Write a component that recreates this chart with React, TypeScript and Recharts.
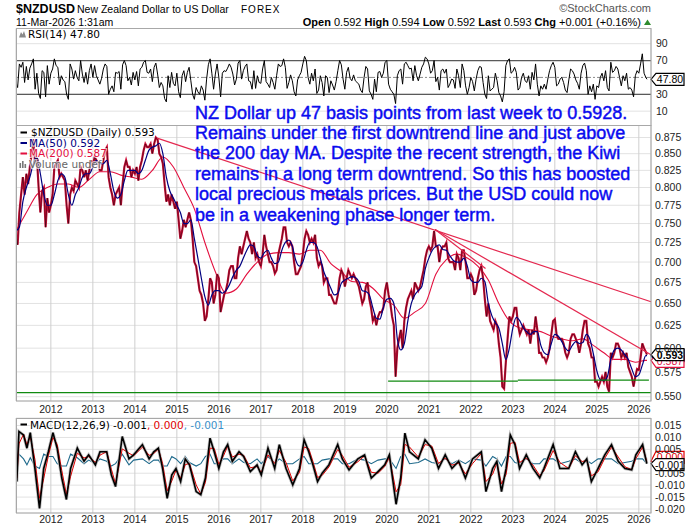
import React from "react";
import {
  ComposedChart,
  Line,
  XAxis,
  YAxis,
  CartesianGrid,
  ReferenceLine,
  ReferenceDot,
} from "recharts";

// ---------- layout / style constants ----------
const W = 700;
const H = 530;
const SANS = "'Liberation Sans', Arial, Helvetica, sans-serif";
const LEG = "'DejaVu Sans', Verdana, sans-serif";
const BLUE_TEXT = "#0a0aef";
const PRICE_RED = "#d0103a";
const MA50_COLOR = "#000080";
const MA200_COLOR = "#e3103f";
const TREND_COLOR = "#e4284f";
const GREEN = "#108a10";

// ---------- axes ----------
const X_DOMAIN: [number, number] = [2011.17, 2026.29];
const yearTicks = [2012, 2013, 2014, 2015, 2016, 2017, 2018, 2019, 2020, 2021, 2022, 2023, 2024, 2025, 2026];
const priceTicks = [0.55, 0.575, 0.6, 0.625, 0.65, 0.675, 0.7, 0.725, 0.75, 0.775, 0.8, 0.825, 0.85, 0.875];
const PRICE_DOMAIN: [number, number] = [0.5458, 0.894];
const rsiTicks = [10, 30, 70, 90];
const RSI_DOMAIN: [number, number] = [-7, 108];
const macdTicks = [-0.02, -0.015, -0.01, -0.005, 0.005, 0.01, 0.015];
const MACD_DOMAIN: [number, number] = [-0.02167, 0.01815];

// ---------- time grid (series start 1-Mar-2011) ----------
const SERIES_START = 2011 + 2 / 12;
const LAST_T = 2026 + 2 / 12 + 10 / 365; // 11-Mar-2026

// ---------- price close, semi-monthly (1st & 15th), Mar 2011 .. Mar 2026 ----------
const priceClose = [
  0.735, 0.722, 0.765, 0.79, 0.815, 0.79, 0.82, 0.805, 0.83, 0.85, 0.872, 0.835, 0.845, 0.8, 0.765, 0.795, 0.8, 0.745, 0.785, 0.765,
  0.775, 0.79, 0.83, 0.835, 0.84, 0.815, 0.82, 0.815, 0.81, 0.775, 0.75, 0.79, 0.8, 0.795, 0.81, 0.805, 0.8, 0.83, 0.825, 0.815, 0.825, 0.81, 0.825, 0.84,
  0.83, 0.845, 0.84, 0.835, 0.825, 0.825, 0.84, 0.855, 0.86, 0.815, 0.8, 0.79, 0.775, 0.79, 0.795, 0.8, 0.775, 0.805, 0.83, 0.84, 0.83, 0.83, 0.815, 0.825,
  0.82, 0.83, 0.81, 0.83, 0.84, 0.855, 0.865, 0.86, 0.86, 0.865, 0.85, 0.865, 0.875, 0.872, 0.85, 0.845, 0.835, 0.805, 0.78, 0.79, 0.775, 0.79, 0.78, 0.77,
  0.78, 0.755, 0.73, 0.74, 0.755, 0.745, 0.755, 0.765, 0.755, 0.73, 0.7, 0.695, 0.68, 0.665, 0.66, 0.65, 0.63, 0.635, 0.655, 0.68, 0.675, 0.65, 0.66, 0.685,
  0.68, 0.64, 0.65, 0.66, 0.665, 0.675, 0.69, 0.695, 0.695, 0.68, 0.68, 0.705, 0.72, 0.71, 0.72, 0.73, 0.74, 0.73, 0.725, 0.71, 0.725, 0.705, 0.71, 0.7,
  0.695, 0.71, 0.735, 0.72, 0.71, 0.7, 0.7, 0.695, 0.686, 0.69, 0.71, 0.72, 0.73, 0.745, 0.745, 0.725, 0.72, 0.725, 0.72, 0.7, 0.685, 0.685, 0.69, 0.695,
  0.71, 0.73, 0.74, 0.735, 0.725, 0.73, 0.725, 0.735, 0.705, 0.695, 0.7, 0.695, 0.675, 0.68, 0.68, 0.66, 0.66, 0.655, 0.65, 0.65, 0.66, 0.68, 0.69, 0.685,
  0.67, 0.68, 0.69, 0.685, 0.68, 0.685, 0.68, 0.675, 0.67, 0.66, 0.65, 0.655, 0.67, 0.675, 0.655, 0.645, 0.63, 0.635, 0.625, 0.635, 0.64, 0.64, 0.645, 0.665,
  0.675, 0.66, 0.65, 0.635, 0.625, 0.57, 0.6, 0.61, 0.62, 0.6, 0.63, 0.645, 0.655, 0.66, 0.665, 0.655, 0.675, 0.67, 0.665, 0.67, 0.68, 0.69, 0.705, 0.715,
  0.72, 0.715, 0.72, 0.74, 0.72, 0.72, 0.7, 0.715, 0.72, 0.72, 0.725, 0.705, 0.7, 0.7, 0.7, 0.69, 0.71, 0.705, 0.69, 0.715, 0.715, 0.7, 0.68, 0.68,
  0.685, 0.68, 0.66, 0.665, 0.68, 0.69, 0.695, 0.68, 0.655, 0.635, 0.65, 0.63, 0.625, 0.62, 0.63, 0.625, 0.605, 0.59, 0.56, 0.558, 0.585, 0.61, 0.635, 0.63,
  0.635, 0.645, 0.645, 0.625, 0.615, 0.62, 0.625, 0.62, 0.615, 0.62, 0.605, 0.62, 0.615, 0.635, 0.62, 0.595, 0.595, 0.59, 0.59, 0.585, 0.59, 0.6, 0.615, 0.63,
  0.632, 0.615, 0.61, 0.61, 0.61, 0.605, 0.595, 0.59, 0.595, 0.61, 0.615, 0.615, 0.61, 0.605, 0.595, 0.605, 0.62, 0.63, 0.63, 0.605, 0.6, 0.59, 0.59, 0.565,
  0.565, 0.56, 0.565, 0.57, 0.565, 0.575, 0.56, 0.555, 0.595, 0.59, 0.595, 0.605, 0.605, 0.6, 0.59, 0.595, 0.59, 0.595, 0.58, 0.575, 0.57, 0.56, 0.57, 0.578,
  0.577, 0.59, 0.605, 0.6, 0.596,
];
const lastClose = 0.593;

// ---------- MA(50), monthly (1st of month), Mar 2011 .. Mar 2026 ----------
const ma50Values = [
  0.74, 0.745, 0.78, 0.8, 0.815, 0.835, 0.845, 0.82, 0.79, 0.775,
  0.775, 0.79, 0.81, 0.82, 0.815, 0.79, 0.775, 0.79, 0.8, 0.815, 0.82, 0.82,
  0.83, 0.84, 0.835, 0.835, 0.84, 0.82, 0.795, 0.785, 0.79, 0.81, 0.825, 0.825,
  0.825, 0.82, 0.825, 0.84, 0.855, 0.86, 0.862, 0.866, 0.85, 0.815, 0.795, 0.785,
  0.775, 0.765, 0.75, 0.75, 0.755, 0.73, 0.705, 0.68, 0.658, 0.648, 0.66, 0.665,
  0.665, 0.662, 0.665, 0.672, 0.682, 0.69, 0.695, 0.705, 0.715, 0.722, 0.72, 0.708,
  0.705, 0.712, 0.715, 0.705, 0.698, 0.7, 0.715, 0.725, 0.728, 0.72, 0.702, 0.695,
  0.7, 0.715, 0.725, 0.725, 0.72, 0.705, 0.688, 0.678, 0.668, 0.66, 0.662, 0.674,
  0.678, 0.68, 0.682, 0.681, 0.676, 0.665, 0.664, 0.66, 0.645, 0.633, 0.632, 0.645,
  0.655, 0.656, 0.65, 0.61, 0.598, 0.605, 0.63, 0.65, 0.66, 0.665, 0.67, 0.692,
  0.705, 0.715, 0.72, 0.722, 0.716, 0.715, 0.708, 0.702, 0.7, 0.7, 0.705, 0.695,
  0.678, 0.675, 0.675, 0.68, 0.676, 0.65, 0.636, 0.628, 0.622, 0.605, 0.588, 0.6,
  0.622, 0.634, 0.63, 0.622, 0.618, 0.615, 0.618, 0.618, 0.603, 0.595, 0.593, 0.605,
  0.615, 0.613, 0.607, 0.6, 0.597, 0.603, 0.607, 0.605, 0.606, 0.615, 0.61, 0.594,
  0.576, 0.567, 0.566, 0.57, 0.588, 0.598, 0.6, 0.598, 0.593, 0.588, 0.578, 0.57,
  0.572, 0.582, 0.592,
];
const lastMa50 = 0.592;

// ---------- MA(200), quarterly, Mar 2011 .. Mar 2026 ----------
const ma200Values = [
  0.74, 0.765, 0.79, 0.8,
  0.805, 0.805, 0.8, 0.812,
  0.823, 0.823, 0.818, 0.815,
  0.812, 0.825, 0.845, 0.83,
  0.8, 0.77, 0.725, 0.688,
  0.662, 0.667, 0.685, 0.7,
  0.71, 0.712, 0.712, 0.71,
  0.715, 0.715, 0.698, 0.688,
  0.676, 0.675, 0.668, 0.655,
  0.648, 0.633, 0.64, 0.65,
  0.685, 0.703, 0.71, 0.705,
  0.695, 0.678, 0.65, 0.63,
  0.622, 0.62, 0.618, 0.613,
  0.61, 0.608, 0.61, 0.603,
  0.595, 0.588, 0.588, 0.585,
  0.587,
];
const lastMa200 = 0.587;

// ---------- RSI(14), semi-monthly, Mar 2011 .. Mar 2026 ----------
const rsiValues = [
  45, 38, 66, 62, 68, 44, 63, 47, 61, 66, 72, 36, 55, 31, 25, 58, 56, 27, 64, 42,
  55, 60, 72, 64, 62, 41, 52, 47, 45, 30, 24, 66, 60, 48, 58, 50, 46, 70, 54, 44, 56, 42, 58, 66,
  50, 64, 52, 47, 42, 49, 60, 66, 63, 30, 36, 40, 33, 56, 55, 57, 36, 65, 70, 64, 46, 50, 41, 56,
  47, 57, 40, 60, 62, 68, 70, 56, 55, 60, 45, 62, 67, 54, 38, 44, 40, 25, 21, 52, 38, 56, 43, 40,
  55, 33, 26, 52, 58, 45, 56, 62, 46, 30, 24, 38, 33, 30, 40, 35, 23, 48, 65, 72, 55, 36, 54, 66,
  50, 27, 55, 58, 57, 61, 66, 62, 54, 41, 48, 67, 70, 48, 58, 63, 66, 46, 45, 36, 58, 37, 52, 44,
  43, 60, 70, 45, 42, 38, 50, 44, 36, 52, 66, 63, 64, 72, 62, 37, 44, 53, 46, 33, 28, 47, 52, 56,
  66, 75, 70, 50, 42, 55, 46, 60, 31, 35, 52, 44, 28, 52, 50, 32, 46, 41, 35, 45, 58, 70, 65, 48,
  36, 56, 62, 49, 46, 53, 46, 44, 42, 35, 32, 50, 63, 60, 34, 30, 24, 48, 33, 56, 57, 50, 55, 68,
  70, 42, 36, 33, 30, 19, 52, 58, 60, 42, 66, 68, 64, 60, 61, 46, 64, 52, 46, 54, 62, 66, 74, 72,
  66, 55, 58, 70, 45, 50, 35, 58, 60, 55, 60, 38, 42, 48, 47, 37, 60, 52, 38, 66, 58, 40, 30, 38,
  50, 45, 34, 48, 58, 63, 62, 44, 30, 25, 52, 34, 36, 38, 55, 46, 32, 28, 21, 33, 64, 70, 72, 55,
  57, 62, 56, 35, 38, 50, 55, 46, 44, 52, 36, 56, 47, 66, 42, 28, 40, 36, 42, 36, 48, 58, 64, 68,
  62, 40, 42, 48, 50, 44, 35, 32, 47, 60, 58, 54, 47, 43, 36, 55, 64, 67, 58, 30, 40, 33, 42, 24,
  40, 38, 50, 55, 46, 58, 38, 34, 68, 56, 58, 63, 60, 50, 40, 52, 46, 55, 36, 38, 35, 27, 52, 58,
  55, 66, 78, 55, 50,
];
const lastRsi = 47.8;

// ---------- MACD(12,26,9), points ----------
const macdDates = [
  2011.19, 2011.24, 2011.35, 2011.43, 2011.51, 2011.62, 2011.73, 2011.83, 2011.94, 2012.05,
  2012.15, 2012.26, 2012.37, 2012.47, 2012.63, 2012.79, 2012.9, 2013.06, 2013.17, 2013.33,
  2013.44, 2013.54, 2013.7, 2013.86, 2013.97, 2014.18, 2014.34, 2014.45, 2014.56, 2014.66,
  2014.77, 2014.88, 2014.98, 2015.09, 2015.2, 2015.3, 2015.46, 2015.57, 2015.68, 2015.79,
  2015.89, 2016.0, 2016.11, 2016.21, 2016.32, 2016.48, 2016.59, 2016.75, 2016.91, 2017.01,
  2017.17, 2017.33, 2017.44, 2017.6, 2017.76, 2017.92, 2018.03, 2018.14, 2018.24, 2018.35,
  2018.46, 2018.62, 2018.83, 2018.94, 2019.1, 2019.31, 2019.47, 2019.63, 2019.79, 2019.95,
  2020.06, 2020.22, 2020.33, 2020.43, 2020.54, 2020.75, 2020.91, 2021.07, 2021.23, 2021.39,
  2021.55, 2021.71, 2021.87, 2022.04, 2022.25, 2022.36, 2022.52, 2022.62, 2022.73, 2022.84,
  2022.94, 2023.05, 2023.16, 2023.32, 2023.48, 2023.64, 2023.74, 2023.96, 2024.12, 2024.33,
  2024.49, 2024.65, 2024.76, 2024.87, 2025.03, 2025.19, 2025.35, 2025.51, 2025.67, 2025.83,
  2025.93, 2026.09, 2026.19,
];
const macdValues = [
  -0.0085, 0.0125, 0.011, 0.0055, 0.012, -0.003, -0.0197, -0.003, 0.004, 0.012,
  0.0055, -0.007, -0.016, -0.003, 0.0055, 0.0, 0.0027, -0.0015, 0.004, 0.004,
  -0.0057, -0.0106, 0.0104, 0.001, 0.0027, 0.007, 0.001, 0.004, 0.0055, -0.003,
  -0.0155, -0.0057, -0.003, -0.0085, 0.001, -0.0015, -0.0127, -0.014, -0.007, 0.0097,
  0.004, -0.003, 0.004, 0.007, 0.0, 0.004, 0.002, -0.0043, -0.0015, -0.0057,
  0.0055, -0.003, 0.007, -0.003, -0.0099, -0.003, 0.009, 0.004, -0.0015, -0.0085,
  -0.005, -0.0015, 0.007, 0.001, -0.0036, 0.001, 0.0027, -0.007, -0.0043, -0.0015,
  0.0027, -0.018, -0.007, 0.0118, 0.004, 0.001, 0.009, 0.0055, -0.003, 0.0027,
  -0.003, 0.0, -0.007, 0.001, 0.004, -0.0127, -0.003, 0.0, -0.0127, -0.003,
  0.011, 0.007, -0.003, 0.0027, -0.003, -0.007, -0.003, 0.007, -0.003, -0.003,
  0.004, -0.0015, 0.001, -0.0085, -0.003, 0.0027, 0.007, 0.0, -0.003, -0.0036,
  0.0027, 0.007, -0.001,
];
const signalValues = [
  -0.007, 0.0073, 0.0114, 0.0069, 0.0104, 0.0008, -0.0155, -0.0072, 0.0023, 0.01,
  0.0071, -0.0039, -0.0138, -0.0063, 0.0034, 0.0014, 0.002, -0.0005, 0.0026, 0.004,
  -0.0033, -0.0094, 0.0052, 0.0034, 0.0023, 0.0059, 0.0025, 0.0033, 0.0051, -0.0009,
  -0.0124, -0.0082, -0.0037, -0.0071, -0.0014, -0.0009, -0.0099, -0.0137, -0.0088, 0.0055,
  0.0054, -0.0013, 0.0023, 0.0063, 0.0018, 0.003, 0.0025, -0.0027, -0.0022, -0.0047,
  0.0027, -0.0009, 0.0045, -0.0005, -0.0082, -0.0047, 0.006, 0.0053, -0.0001, -0.0068,
  -0.0059, -0.0024, 0.0049, 0.0025, -0.0025, -0.0002, 0.0023, -0.0046, -0.005, -0.0022,
  0.0017, -0.0128, -0.0098, 0.0071, 0.006, 0.0018, 0.007, 0.0064, -0.0009, 0.0013,
  -0.0016, -0.0008, -0.0053, -0.001, 0.0033, -0.0085, -0.0054, -0.0008, -0.0095, -0.0054,
  0.0075, 0.008, -0.0005, 0.0013, -0.0016, -0.006, -0.004, 0.0045, -0.0005, -0.003,
  0.0023, -0.0001, 0.0004, -0.0061, -0.0044, 0.0013, 0.0059, 0.0018, -0.0023, -0.0035,
  0.0011, 0.0059, 0.0,
];
const histValues = [
  -0.002, 0.003, 0.001, -0.0015, 0.0015, -0.002, -0.003, 0.003, 0.002, 0.002,
  -0.001, -0.002, -0.002, 0.003, 0.0015, -0.001, 0.0005, -0.001, 0.001, 0.0,
  -0.002, -0.001, 0.003, -0.0015, 0.0005, 0.001, -0.001, 0.0005, 0.0005, -0.002,
  -0.002, 0.002, 0.001, -0.001, 0.002, -0.0005, -0.002, -0.001, 0.002, 0.003,
  -0.001, -0.001, 0.001, 0.001, -0.001, 0.001, -0.0005, -0.001, 0.001, -0.001,
  0.002, -0.001, 0.001, -0.001, -0.001, 0.001, 0.002, -0.001, -0.001, -0.001,
  0.0005, 0.001, 0.001, -0.001, -0.001, 0.001, 0.0005, -0.001, 0.0005, 0.001,
  0.001, -0.003, 0.002, 0.003, -0.001, -0.0005, 0.001, -0.0005, -0.001, 0.001,
  -0.001, 0.0005, -0.001, 0.001, 0.0005, -0.002, 0.002, 0.001, -0.002, 0.002,
  0.002, -0.0005, -0.001, 0.001, -0.001, -0.001, 0.001, 0.001, -0.001, 0.0,
  0.001, -0.001, 0.0005, -0.001, 0.001, 0.001, 0.001, -0.001, -0.0005, 0.0,
  0.001, 0.001, -0.001,
];
const lastSignal = 0.0;
const lastMacd = -0.001;

// ---------- drawn lines on the price panel ----------
const trendLines = [
  { x1: 2014.53, y1: 0.874, x2: 2026.29, y2: 0.652 },
  { x1: 2021.15, y1: 0.742, x2: 2026.29, y2: 0.593 },
  { x1: 2021.15, y1: 0.742, x2: 2022.35, y2: 0.692 },
];
const supportLevel = 0.554;
const supportSegments = [
  { x1: 2020.03, x2: 2023.12, y: 0.5655 },
  { x1: 2023.12, x2: 2026.24, y: 0.5665 },
];

// ---------- text ----------
const noteLines = [
  "NZ Dollar up 47 basis points from last week to 0.5928.",
  "Remains under the first downtrend line and just above",
  "the 200 day MA. Despite the recent strength, the Kiwi",
  "remains in a long term downtrend. So this has boosted",
  "local precious metals prices. But the USD could now",
  "be in a weakening phase longer term.",
];
const quoteParts = [
  ["Open", "0.592"],
  ["High", "0.594"],
  ["Low", "0.592"],
  ["Last", "0.593"],
  ["Chg", "+0.001 (+0.16%)"],
];

// ---------- build series ----------
const semiSeries = (vals: number[], last: number) => [
  ...vals.map((v, i) => ({ t: SERIES_START + i / 24, v })),
  { t: LAST_T, v: last },
];
const priceData = semiSeries(priceClose, lastClose);
const rsiData = semiSeries(rsiValues, lastRsi);
const ma50Data = [...ma50Values.map((v, i) => ({ t: SERIES_START + i / 12, v })), { t: LAST_T, v: lastMa50 }];
const ma200Data = [...ma200Values.map((v, i) => ({ t: SERIES_START + i / 4, v })), { t: LAST_T, v: lastMa200 }];
const macdData = macdDates.map((t, i) => ({ t, v: macdValues[i] }));
const signalData = macdDates.map((t, i) => ({ t, v: signalValues[i] }));
const histData = macdDates.map((t, i) => ({ t, v: histValues[i] }));

const fmt3 = (v: number) => v.toFixed(3);

function makeTag(text: string, stroke: string, color: string, bold: boolean, w: number, dy = 0) {
  return (props: any) => {
    const cx = props.cx;
    const cy0 = props.cy;
    if (typeof cx !== "number" || typeof cy0 !== "number") return <g />;
    const cy = cy0 + dy;
    const h = 12;
    const p = 5;
    const d = `M${cx},${cy0} L${cx + p},${cy - h / 2} L${cx + p + w},${cy - h / 2} L${cx + p + w},${cy + h / 2} L${cx + p},${cy + h / 2} Z`;
    return (
      <g>
        <path d={d} fill="#ffffff" stroke={stroke} strokeWidth={1.2} />
        {text ? (
          <text
            x={cx + p + w / 2}
            y={cy + 4}
            textAnchor="middle"
            fontSize={10.5}
            fontFamily={SANS}
            fontWeight={bold ? "bold" : "normal"}
            fill={color}
          >
            {text}
          </text>
        ) : null}
      </g>
    );
  };
}

const axisTick = { fontSize: 10.5, fill: "#222", fontFamily: SANS };
const layer: React.CSSProperties = { position: "absolute", left: 0, top: 0 };

function RsiPanel() {
  return (
    <div style={layer}>
      <ComposedChart width={W} height={H} margin={{ top: 28.5, right: 0, bottom: H - 125.5, left: 16 }}>
        <CartesianGrid horizontal={true} vertical={false} stroke="#e2e2e2" />
        <CartesianGrid horizontal={false} vertical={true} stroke="#cfcfcf" />
        <XAxis
          dataKey="t"
          type="number"
          domain={X_DOMAIN}
          ticks={yearTicks}
          allowDataOverflow
          height={0}
          tick={false}
          axisLine={false}
          tickLine={false}
        />
        <YAxis
          orientation="right"
          type="number"
          domain={RSI_DOMAIN}
          ticks={rsiTicks}
          allowDataOverflow
          width={49}
          axisLine={false}
          tickLine={false}
          tickSize={0}
          tickMargin={5}
          tick={axisTick}
          interval={0}
        />
        <ReferenceLine y={70} stroke="#5a5a5a" strokeWidth={1.2} />
        <ReferenceLine y={30} stroke="#5a5a5a" strokeWidth={1.2} />
        <ReferenceLine y={50} stroke="#8a8a8a" strokeDasharray="6 2 2 2" />
        <Line data={rsiData} dataKey="v" type="linear" stroke="#000" strokeWidth={1} dot={false} isAnimationActive={false} />
        <ReferenceDot x={X_DOMAIN[1]} y={lastRsi} r={0} ifOverflow="visible" shape={makeTag("47.80", "#000", "#000", false, 28)} />
      </ComposedChart>
    </div>
  );
}

function PricePanel() {
  return (
    <div style={layer}>
      <ComposedChart width={W} height={H} margin={{ top: 125.5, right: 0, bottom: H - 401 - 20, left: 16 }}>
        <CartesianGrid horizontal={true} vertical={false} stroke="#e2e2e2" />
        <CartesianGrid horizontal={false} vertical={true} stroke="#cfcfcf" />
        <XAxis
          dataKey="t"
          type="number"
          domain={X_DOMAIN}
          ticks={yearTicks}
          allowDataOverflow
          height={20}
          axisLine={false}
          tickLine={false}
          tickSize={0}
          tickMargin={5}
          interval={0}
          tick={axisTick}
        />
        <YAxis
          orientation="right"
          type="number"
          scale="log"
          domain={PRICE_DOMAIN}
          ticks={priceTicks}
          allowDataOverflow
          width={49}
          axisLine={false}
          tickLine={false}
          tickSize={0}
          tickMargin={4}
          tick={axisTick}
          tickFormatter={fmt3}
          interval={0}
        />
        <Line data={ma200Data} dataKey="v" type="monotone" stroke={MA200_COLOR} strokeWidth={1.1} dot={false} isAnimationActive={false} />
        <Line data={priceData} dataKey="v" type="linear" stroke={PRICE_RED} strokeWidth={2.2} dot={false} isAnimationActive={false} />
        <Line data={priceData} dataKey="v" type="linear" stroke="#000" strokeWidth={0.6} strokeOpacity={0.75} dot={false} isAnimationActive={false} />
        <Line data={ma50Data} dataKey="v" type="monotone" stroke={MA50_COLOR} strokeWidth={1.2} dot={false} isAnimationActive={false} />
        {trendLines.map((s, i) => (
          <ReferenceLine
            key={"tr" + i}
            segment={[{ x: s.x1, y: s.y1 }, { x: s.x2, y: s.y2 }]}
            stroke={TREND_COLOR}
            strokeWidth={1.2}
            ifOverflow="visible"
          />
        ))}
        <ReferenceLine y={supportLevel} stroke={GREEN} strokeWidth={1.3} />
        {supportSegments.map((s, i) => (
          <ReferenceLine
            key={"sp" + i}
            segment={[{ x: s.x1, y: s.y }, { x: s.x2, y: s.y }]}
            stroke={GREEN}
            strokeWidth={1.3}
            ifOverflow="visible"
          />
        ))}
        <ReferenceDot x={X_DOMAIN[1]} y={lastMa50} r={0} ifOverflow="visible" shape={makeTag("", MA50_COLOR, MA50_COLOR, false, 28)} />
        <ReferenceDot x={X_DOMAIN[1]} y={lastMa200} r={0} ifOverflow="visible" shape={makeTag("0.587", MA200_COLOR, MA200_COLOR, false, 28, 1)} />
        <ReferenceDot x={X_DOMAIN[1]} y={lastClose} r={0} ifOverflow="visible" shape={makeTag("0.593", "#000", "#000", true, 28)} />
      </ComposedChart>
    </div>
  );
}

function MacdPanel() {
  return (
    <div style={layer}>
      <ComposedChart width={W} height={H} margin={{ top: 418, right: 0, bottom: 0, left: 16 }}>
        <CartesianGrid horizontal={true} vertical={false} stroke="#e2e2e2" />
        <CartesianGrid horizontal={false} vertical={true} stroke="#cfcfcf" />
        <XAxis
          dataKey="t"
          type="number"
          domain={X_DOMAIN}
          ticks={yearTicks}
          allowDataOverflow
          height={17}
          axisLine={false}
          tickLine={false}
          tickSize={0}
          tickMargin={3}
          interval={0}
          tick={axisTick}
        />
        <YAxis
          orientation="right"
          type="number"
          domain={MACD_DOMAIN}
          ticks={macdTicks}
          allowDataOverflow
          width={49}
          axisLine={false}
          tickLine={false}
          tickSize={0}
          tickMargin={4}
          tick={axisTick}
          tickFormatter={fmt3}
          interval={0}
        />
        <Line data={histData} dataKey="v" type="linear" stroke="#1f6a8c" strokeWidth={1.1} dot={false} isAnimationActive={false} />
        <Line data={macdData} dataKey="v" type="linear" stroke="#c4c4c4" strokeWidth={3.2} dot={false} isAnimationActive={false} />
        <Line data={signalData} dataKey="v" type="linear" stroke="#e00000" strokeWidth={1} dot={false} isAnimationActive={false} />
        <Line data={macdData} dataKey="v" type="linear" stroke="#000" strokeWidth={1.6} dot={false} isAnimationActive={false} />
        <ReferenceDot x={X_DOMAIN[1]} y={lastSignal} r={0} ifOverflow="visible" shape={makeTag("0.000", "#e00000", "#e00000", false, 28, -4)} />
        <ReferenceDot x={X_DOMAIN[1]} y={lastMacd} r={0} ifOverflow="visible" shape={makeTag("-0.001", "#000", "#000", false, 28, 1)} />
      </ComposedChart>
    </div>
  );
}

function Overlay() {
  const t = { fontFamily: SANS, fill: "#000" } as const;
  const halo = { stroke: "#ffffff", strokeWidth: 2.2, strokeOpacity: 0.7, paintOrder: "stroke" } as any;
  return (
    <svg width={W} height={H} style={{ ...layer, pointerEvents: "none" }}>
      {/* header */}
      <text x={16} y={13} {...t} fontSize={12.5} fontWeight="bold">$NZDUSD</text>
      <text x={77} y={13} {...t} fontSize={10.5}>New Zealand Dollar to US Dollar</text>
      <text x={241} y={13} {...t} fontSize={10} letterSpacing={1}>FOREX</text>
      <text x={651} y={12} {...t} fontSize={11} fill="#555" textAnchor="end">{"\u00A9StockCharts.com"}</text>
      <text x={16} y={25.5} {...t} fontSize={10.5}>11-Mar-2026 1:31am</text>
      <text x={641} y={25.5} {...t} fontSize={11} textAnchor="end">
        {quoteParts.map(([k, v], i) => (
          <tspan key={k}>
            <tspan fontWeight="bold">{(i > 0 ? "  " : "") + k}</tspan>
            <tspan>{" " + v}</tspan>
          </tspan>
        ))}
      </text>
      <path d="M644,25 L651,25 L647.5,19.5 Z" fill="#2e8b2e" />

      {/* panel borders */}
      <rect x={16.5} y={28.5} width={634.5} height={97} fill="none" stroke="#a8a8a8" />
      <rect x={16.5} y={125.5} width={634.5} height={275.5} fill="none" stroke="#a8a8a8" />
      <rect x={16.5} y={418.5} width={634.5} height={94.5} fill="none" stroke="#a8a8a8" />

      {/* RSI legend */}
      <path d="M19,37.5 L21,32 L22.5,34.5 L24,31 L26,37.5 Z" fill="#8a8a8a" />
      <text x={28} y={38} fontFamily={LEG} fontSize={10.5} fill="#000" {...halo}>RSI(14) 47.80</text>

      {/* price legend */}
      <rect x={20.5} y={131.5} width={6.5} height={2} fill="#000" />
      <text x={31} y={136} fontFamily={LEG} fontSize={10.5} fill="#000" {...halo}>$NZDUSD (Daily) 0.593</text>
      <rect x={20.5} y={142} width={6.5} height={2} fill={MA50_COLOR} />
      <text x={29} y={146.7} fontFamily={LEG} fontSize={10.5} fill={MA50_COLOR} {...halo}>MA(50) 0.592</text>
      <rect x={20.5} y={152.5} width={6.5} height={2} fill={MA200_COLOR} />
      <text x={29} y={157.3} fontFamily={LEG} fontSize={10.5} fill={MA200_COLOR} {...halo}>MA(200) 0.587</text>
      <rect x={19.5} y={163} width={1.6} height={5} fill="#777" />
      <rect x={22} y={161} width={1.6} height={7} fill="#777" />
      <rect x={24.5} y={164} width={1.6} height={4} fill="#777" />
      <text x={29} y={168} fontFamily={LEG} fontSize={10.5} fill="#666" {...halo}>Volume undef</text>

      {/* MACD legend */}
      <rect x={20.5} y={423.5} width={6.5} height={2} fill="#000" />
      <text x={30} y={428.5} fontFamily={LEG} fontSize={10.5} {...halo}>
        <tspan fill="#000">MACD(12,26,9) -0.001</tspan>
        <tspan fill="#e00000">, 0.000</tspan>
        <tspan fill="#3a8fc8">, -0.001</tspan>
      </text>

      {/* annotation */}
      {noteLines.map((line, i) => (
        <text
          key={i}
          x={195}
          y={118.5 + i * 20.4}
          fontFamily={SANS}
          fontSize={18}
          fill={BLUE_TEXT}
          stroke={BLUE_TEXT}
          strokeWidth={0.45}
        >
          {line}
        </text>
      ))}
    </svg>
  );
}

export default function App() {
  return (
    <div style={{ position: "absolute", left: 0, top: 0, width: W, height: H, background: "#fff", overflow: "hidden" }}>
      <RsiPanel />
      <PricePanel />
      <MacdPanel />
      <Overlay />
    </div>
  );
}
